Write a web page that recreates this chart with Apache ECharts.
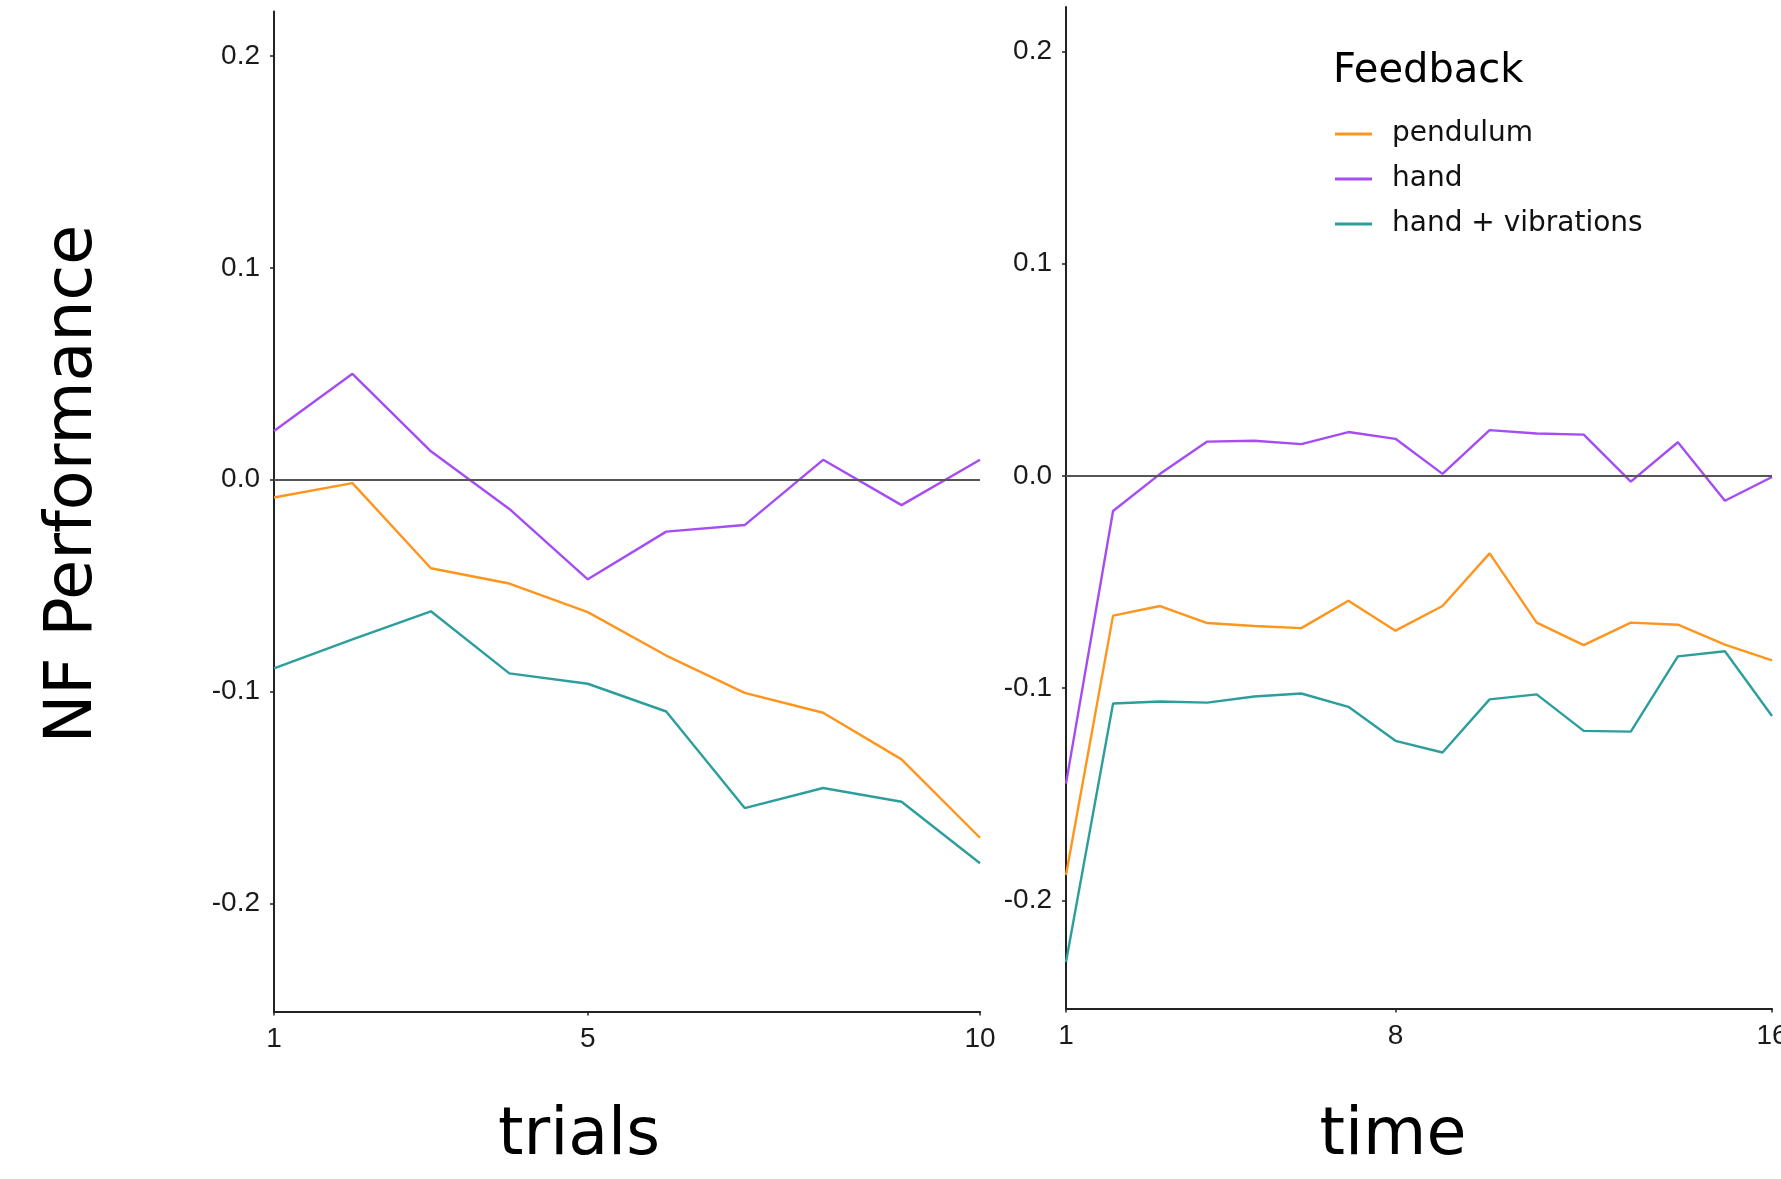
<!DOCTYPE html>
<html>
<head>
<meta charset="utf-8">
<script src="https://cdn.jsdelivr.net/npm/echarts@6/dist/echarts.min.js"></script>
<style>
  html, body { margin: 0; padding: 0; background: #fff; overflow: hidden; }
  #chart { width: 1781px; height: 1179px; }
</style>
</head>
<body>
<div id="chart"></div>
<script>
// ---- data ----
const seriesNames = ['pendulum', 'hand', 'hand + vibrations'];
const seriesColors = ['#FF951C', '#A64CF4', '#2C9E9B'];

const trials = [1, 2, 3, 4, 5, 6, 7, 8, 9, 10];
const trialsPendulum = [-0.0084, -0.0016, -0.0418, -0.049, -0.0625, -0.083, -0.1006, -0.110, -0.132, -0.169];
const trialsHand = [0.023, 0.050, 0.0134, -0.0138, -0.047, -0.0245, -0.0214, 0.0094, -0.012, 0.0094];
const trialsVib = [-0.089, -0.0754, -0.0621, -0.0914, -0.0963, -0.1094, -0.155, -0.1455, -0.152, -0.181];

const time = [1, 2, 3, 4, 5, 6, 7, 8, 9, 10, 11, 12, 13, 14, 15, 16];
const timePendulum = [-0.188, -0.0658, -0.0613, -0.0693, -0.0707, -0.0717, -0.0588, -0.0729, -0.0613, -0.0365, -0.0691, -0.0797, -0.0691, -0.0701, -0.0795, -0.0869];
const timeHand = [-0.145, -0.0165, 0.001, 0.0162, 0.0166, 0.015, 0.0207, 0.0175, 0.001, 0.0216, 0.020, 0.0195, -0.0027, 0.0159, -0.0117, -0.0005];
const timeVib = [-0.229, -0.1072, -0.1063, -0.1068, -0.1039, -0.1025, -0.1088, -0.1248, -0.1303, -0.1053, -0.1029, -0.1201, -0.1205, -0.085, -0.0826, -0.1131];

const yTicks = [-0.2, -0.1, 0, 0.1, 0.2];
const trialTicks = [1, 5, 10];
const timeTicks = [1, 8, 16];
const yMin = -0.251, yMax = 0.221;

// ---- build ----
const pair = (xs, ys) => xs.map((x, i) => [x, ys[i]]);
const tickFont = { fontFamily: 'Liberation Sans, Arial, sans-serif', fontSize: 28, color: '#1a1a1a' };
const axisLine = { show: true, onZero: false, lineStyle: { color: '#222', width: 2 } };

function xAxisFor(gridIndex, lo, hi, ticks) {
  return {
    type: 'value', gridIndex, min: lo, max: hi,
    axisLine, splitLine: { show: false },
    axisTick: { show: true, customValues: ticks, length: 4, lineStyle: { color: '#222', width: 1.5 } },
    axisLabel: Object.assign({ customValues: ticks, margin: 14, formatter: v => String(v) }, tickFont)
  };
}
function yAxisFor(gridIndex) {
  return {
    type: 'value', gridIndex, min: yMin, max: yMax,
    axisLine, splitLine: { show: false },
    axisTick: { show: true, customValues: yTicks, length: 4, lineStyle: { color: '#222', width: 1.5 } },
    axisLabel: Object.assign({ customValues: yTicks, margin: 14, formatter: v => v.toFixed(1) }, tickFont)
  };
}

const zeroLine = {
  silent: true, symbol: 'none', label: { show: false },
  lineStyle: { color: '#555', width: 2, type: 'solid' },
  data: [{ yAxis: 0 }]
};

function lineSeries(name, color, idx, data, withZero) {
  const s = {
    name, type: 'line', xAxisIndex: idx, yAxisIndex: idx, data,
    showSymbol: false, symbol: 'none', animation: false,
    lineStyle: { color, width: 2.4 }, itemStyle: { color }
  };
  if (withZero) s.markLine = zeroLine;
  return s;
}

const leftData = [trialsPendulum, trialsHand, trialsVib];
const rightData = [timePendulum, timeHand, timeVib];
const series = [];
seriesNames.forEach((n, i) => series.push(lineSeries(n, seriesColors[i], 0, pair(trials, leftData[i]), i === 0)));
seriesNames.forEach((n, i) => series.push(lineSeries(n, seriesColors[i], 1, pair(time, rightData[i]), i === 0)));

const titleFont = 'DejaVu Sans, Verdana, sans-serif';

const option = {
  backgroundColor: '#fff',
  animation: false,
  title: {
    text: 'Feedback', left: 1333, top: 52, padding: 0,
    textStyle: { fontFamily: titleFont, fontSize: 40, fontWeight: 'normal', color: '#000' }
  },
  legend: {
    data: seriesNames, orient: 'vertical', left: 1335, top: 119, padding: 0,
    icon: 'rect', itemWidth: 37, itemHeight: 3, itemGap: 15,
    textStyle: { fontFamily: titleFont, fontSize: 28, color: '#111', lineHeight: 30, padding: [0, 0, 0, 15] }
  },
  grid: [
    { left: 274, top: 11.5, width: 706, height: 1000, outerBoundsMode: 'none', containLabel: false },
    { left: 1066, top: 7, width: 706, height: 1001.6, outerBoundsMode: 'none', containLabel: false }
  ],
  xAxis: [xAxisFor(0, 1, 10, trialTicks), xAxisFor(1, 1, 16, timeTicks)],
  yAxis: [yAxisFor(0), yAxisFor(1)],
  graphic: [
    { type: 'text', x: 579, y: 1137, style: { text: 'trials', fontFamily: titleFont, fontSize: 65, fill: '#000', textAlign: 'center', textVerticalAlign: 'middle' } },
    { type: 'text', x: 1393, y: 1137, style: { text: 'time', fontFamily: titleFont, fontSize: 65, fill: '#000', textAlign: 'center', textVerticalAlign: 'middle' } },
    { type: 'text', x: 74, y: 484, rotation: Math.PI / 2, style: { text: 'NF Performance', fontFamily: titleFont, fontSize: 65, fill: '#000', textAlign: 'center', textVerticalAlign: 'middle' } }
  ],
  series
};

const chart = echarts.init(document.getElementById('chart'), null, { renderer: 'canvas' });
chart.setOption(option);
</script>
</body>
</html>
